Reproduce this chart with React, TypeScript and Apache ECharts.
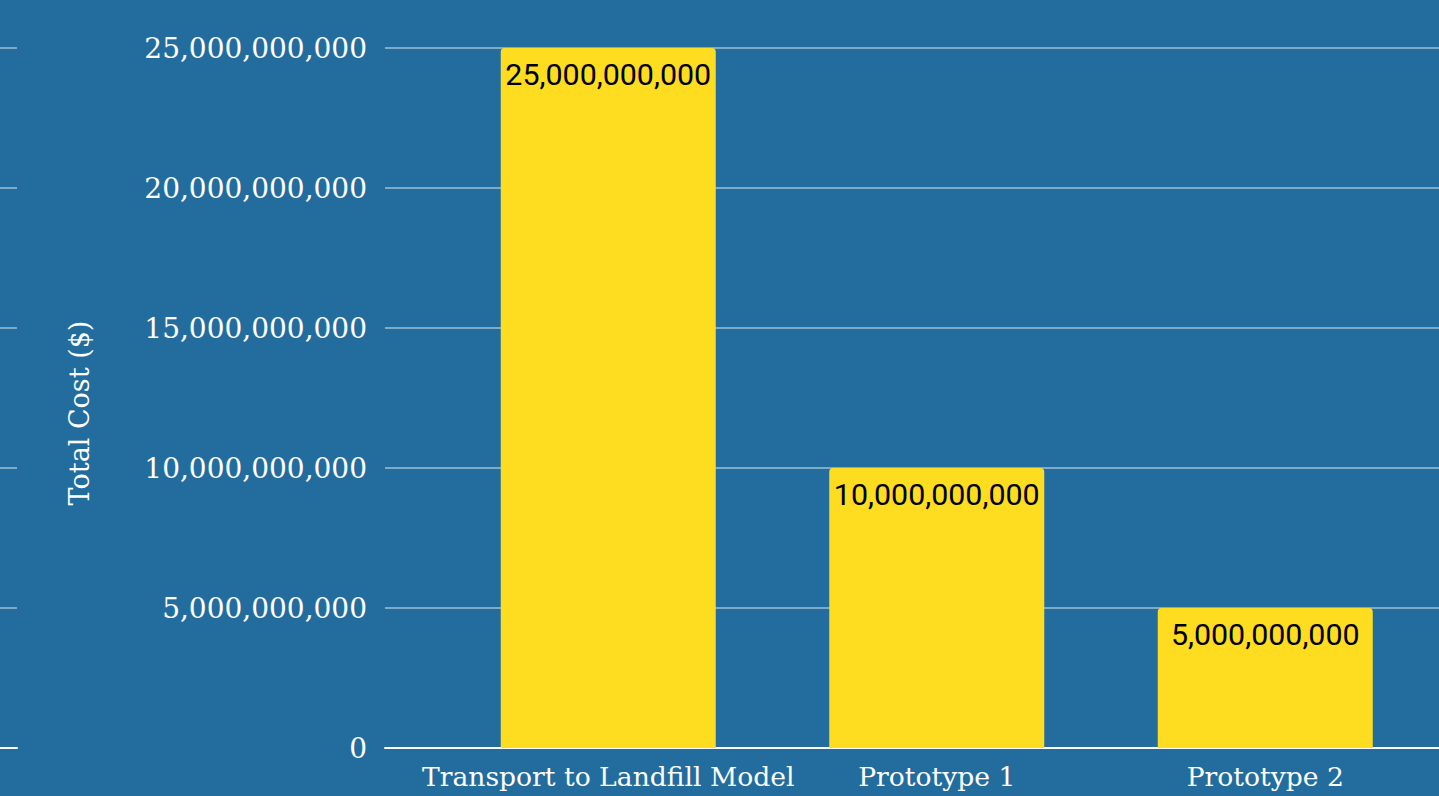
import React, { useEffect, useRef } from "react";
import * as echarts from "echarts";

const categories = ["Transport to Landfill Model", "Prototype 1", "Prototype 2"];
const totalCost = [25000000000, 10000000000, 5000000000];
const yMin = 0;
const yMax = 25000000000;
const yInterval = 5000000000;
const yAxisTitle = "Total Cost ($)";

const BG = "#226d9e";
const BAR = "#fedc1f";
const GRID_LINE = "rgba(255,255,255,0.42)";
const SERIF = "'DejaVu Serif', 'Liberation Serif', serif";

const fmt = (v: number) => Math.round(v).toLocaleString("en-US");

export default function App() {
  const ref = useRef<HTMLDivElement>(null);
  useEffect(() => {
    if (!ref.current) return;
    const chart = echarts.init(ref.current, null, { renderer: "svg" });
    const hiddenY = (grid: number, splits: boolean, labels: boolean) => ({
      type: "value" as const,
      gridIndex: grid,
      min: yMin,
      max: yMax,
      interval: yInterval,
      axisLine: { show: false },
      axisTick: { show: false },
      splitLine: { show: splits, lineStyle: { color: GRID_LINE, width: 2 } },
      axisLabel: labels
        ? {
            show: true,
            formatter: (v: number) => fmt(v),
            color: "#ffffff",
            fontFamily: SERIF,
            fontSize: 28,
            margin: 18,
          }
        : { show: false },
    });
    chart.setOption({
      animation: false,
      backgroundColor: BG,
      grid: [
        { left: 385, right: 0, top: 48, bottom: 48 },
        { left: 444, right: 9.5, top: 48, bottom: 48 },
        { left: 0, width: 17, top: 48, bottom: 48 },
      ],
      xAxis: [
        {
          type: "category",
          gridIndex: 0,
          data: categories,
          axisLine: { show: true, lineStyle: { color: "#ffffff", width: 2 } },
          axisTick: { show: false },
          axisLabel: { show: false },
        },
        {
          type: "category",
          gridIndex: 1,
          data: categories,
          axisLine: { show: false },
          axisTick: { show: false },
          axisLabel: {
            interval: 0,
            color: "#ffffff",
            fontFamily: SERIF,
            fontSize: 26.6,
            margin: 15,
          },
        },
        {
          type: "category",
          gridIndex: 2,
          data: [""],
          axisLine: { show: true, lineStyle: { color: "#ffffff", width: 2 } },
          axisTick: { show: false },
          axisLabel: { show: false },
        },
      ],
      yAxis: [
        {
          ...hiddenY(0, true, true),
          name: yAxisTitle,
          nameLocation: "middle",
          nameGap: 292,
          nameTextStyle: {
            color: "#ffffff",
            fontFamily: SERIF,
            fontSize: 27,
            padding: [0, 30, 0, 0],
          },
        },
        hiddenY(1, false, false),
        hiddenY(2, true, false),
      ],
      series: [
        {
          type: "bar",
          xAxisIndex: 1,
          yAxisIndex: 1,
          data: totalCost,
          barWidth: 215,
          itemStyle: { color: BAR, borderRadius: [4, 4, 0, 0] },
          label: {
            show: true,
            position: "insideTop",
            distance: 11,
            formatter: (p: any) => fmt(p.value),
            color: "#000000",
            fontFamily: "Roboto, sans-serif",
            fontSize: 30.4,
          },
        },
      ],
    });
    return () => chart.dispose();
  }, []);
  return (
    <div
      ref={ref}
      style={{ position: "fixed", left: 0, top: 0, width: 1439, height: 796 }}
    />
  );
}
